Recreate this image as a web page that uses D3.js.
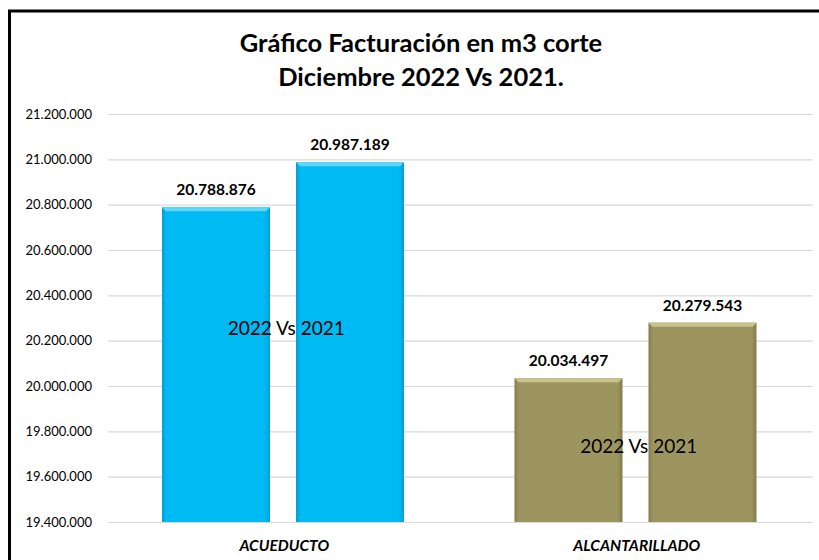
<!DOCTYPE html>
<html>
<head>
<meta charset="utf-8">
<script src="https://cdn.jsdelivr.net/npm/d3@7"></script>
<style>
  body { margin: 0; background: #fff; }
  svg { display: block; font-family: Lato, "Open Sans", sans-serif; }
</style>
</head>
<body>
<div id="chart"></div>
<script>
// datos del gráfico
var categorias = ["ACUEDUCTO", "ALCANTARILLADO"];
var valores2022 = [20788876, 20034497];
var valores2021 = [20987189, 20279543];
var ticks = [19400000, 19600000, 19800000, 20000000, 20200000, 20400000, 20600000, 20800000, 21000000, 21200000];
var tituloLineas = ["Gráfico Facturación en m3 corte", "Diciembre 2022 Vs 2021."];
var etiquetaSerie = "2022 Vs 2021";

var width = 819, height = 560;
// márgenes del área de trazado (no usar "top": choca con window.top)
var plotLeft = 108, plotRight = 813, plotTop = 114, plotBottom = 522;

var colores = [
  { cuerpo: "#00BAF4", claro: "#5FD6FA", oscuro: "#009FD4" },
  { cuerpo: "#9D955F", claro: "#CBC38C", oscuro: "#837C4C" }
];

var svg = d3.select("#chart").append("svg")
  .attr("width", width).attr("height", height);

// marco negro
svg.append("rect")
  .attr("x", 9.5).attr("y", 11)
  .attr("width", 830).attr("height", 600)
  .attr("fill", "#fff").attr("stroke", "#000").attr("stroke-width", 3);

// título
svg.append("g").selectAll("text")
  .data(tituloLineas)
  .enter().append("text")
  .attr("x", 421)
  .attr("y", function(d, i){ return 52 + i * 34; })
  .attr("text-anchor", "middle")
  .attr("font-size", 25.5)
  .attr("font-weight", "bold")
  .text(function(d){ return d; });

var y = d3.scaleLinear().domain([19400000, 21200000]).range([plotBottom, plotTop]);
var x0 = d3.scaleBand().domain(categorias).range([plotLeft, plotRight]).paddingInner(0).paddingOuter(0);
var x1 = d3.scaleBand().domain([0, 1]).range([54, 296]).paddingInner(0.194);

var fmt = function(v){ return d3.format(",")(v).replace(/,/g, "."); };

// líneas de cuadrícula y etiquetas del eje
var yAxis = d3.axisLeft(y).tickValues(ticks).tickSize(-(plotRight - plotLeft)).tickFormat(fmt);
var gy = svg.append("g").attr("transform", "translate(" + plotLeft + ",0)").call(yAxis);
gy.select(".domain").remove();
gy.selectAll(".tick line").attr("stroke", "#D9D9D9").attr("stroke-width", 1.2);
gy.selectAll(".tick text")
  .attr("x", -16)
  .attr("fill", "#000")
  .attr("font-size", 13)
  .attr("font-family", "Lato, sans-serif");

// barras
var filas = categorias.map(function(c, i){
  return { cat: i, vals: [valores2022[i], valores2021[i]] };
});

var defs = svg.append("defs");
colores.forEach(function(c, i){
  var g = defs.append("linearGradient").attr("id", "grad" + i)
    .attr("x1", "0").attr("x2", "1").attr("y1", "0").attr("y2", "0");
  g.append("stop").attr("offset", "0").attr("stop-color", c.oscuro);
  g.append("stop").attr("offset", "0.04").attr("stop-color", c.cuerpo);
  g.append("stop").attr("offset", "0.95").attr("stop-color", c.cuerpo);
  g.append("stop").attr("offset", "1").attr("stop-color", c.oscuro);
});

var grupos = svg.append("g").selectAll("g")
  .data(filas)
  .enter().append("g")
  .attr("transform", function(d){ return "translate(" + x0(categorias[d.cat]) + ",0)"; });

var barras = grupos.selectAll("g.bar")
  .data(function(d){ return d.vals.map(function(v, j){ return { v: v, j: j, cat: d.cat }; }); })
  .enter().append("g").attr("class", "bar");

barras.append("rect")
  .attr("x", function(d){ return x1(d.j); })
  .attr("y", function(d){ return y(d.v); })
  .attr("width", x1.bandwidth())
  .attr("height", function(d){ return plotBottom - y(d.v); })
  .attr("fill", function(d){ return "url(#grad" + d.cat + ")"; });

// bisel superior
barras.append("path")
  .attr("d", function(d){
    var xa = x1(d.j), xb = xa + x1.bandwidth(), ya = y(d.v), b = 4;
    return "M" + xa + "," + ya + "L" + xb + "," + ya + "L" + (xb - b) + "," + (ya + b) + "L" + (xa + b) + "," + (ya + b) + "Z";
  })
  .attr("fill", function(d){ return colores[d.cat].claro; });

// etiquetas de valores
barras.append("text")
  .attr("x", function(d){ return x1(d.j) + x1.bandwidth() / 2; })
  .attr("y", function(d){ return y(d.v) - 12; })
  .attr("text-anchor", "middle")
  .attr("font-size", 15.5)
  .attr("font-weight", "bold")
  .text(function(d){ return fmt(d.v); });

// etiqueta de serie dentro de cada categoría
var posEtiqueta = [20230000, 19710000];
grupos.append("text")
  .attr("x", x0.bandwidth() / 2 + 2)
  .attr("y", function(d){ return y(posEtiqueta[d.cat]) + 1; })
  .attr("text-anchor", "middle")
  .attr("font-size", 19)
  .text(etiquetaSerie);

// etiquetas de categorías
grupos.append("text")
  .attr("x", x0.bandwidth() / 2)
  .attr("y", 551)
  .attr("text-anchor", "middle")
  .attr("font-size", 15.5)
  .attr("font-weight", "bold")
  .attr("font-style", "italic")
  .text(function(d){ return categorias[d.cat]; });
</script>
</body>
</html>
